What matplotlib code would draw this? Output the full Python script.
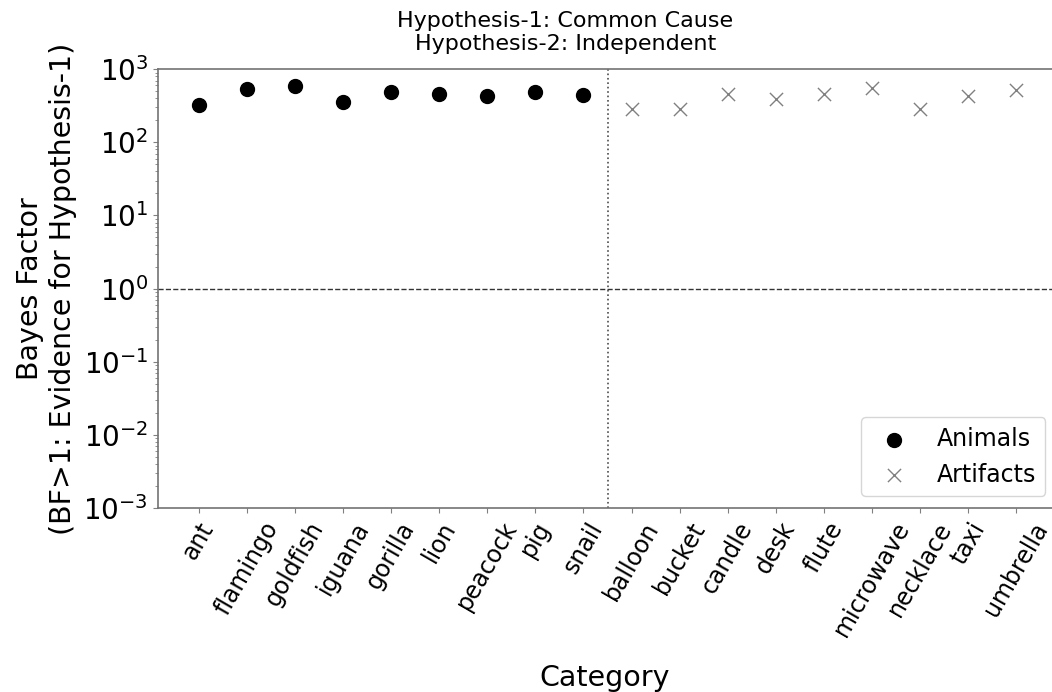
import numpy as np
import matplotlib.pyplot as plt

animals = ['ant', 'flamingo', 'goldfish', 'iguana', 'gorilla', 'lion', 'peacock', 'pig', 'snail']
bf_animals = [325, 535, 595, 355, 490, 455, 425, 490, 450]

artifacts = ['balloon', 'bucket', 'candle', 'desk', 'flute', 'microwave', 'necklace', 'taxi', 'umbrella']
bf_artifacts = [290, 282, 465, 390, 465, 545, 290, 428, 517]

categories = animals + artifacts
x_an = np.arange(len(animals))
x_ar = np.arange(len(animals), len(categories))

fs_title = 16
fs_label = 20.5
fs_ticks = 17

fig = plt.figure(figsize=(10.52, 6.92), dpi=100)
ax = fig.add_axes([0.150, 0.266, 0.855, 0.634])

ax.scatter(x_an, bf_animals, s=100, c='black', marker='o', label='Animals', zorder=3)
ax.scatter(x_ar, bf_artifacts, s=90, c='gray', marker='x', linewidths=1.0, label='Artifacts', zorder=3)

ax.axhline(1, color='0.2', linestyle='--', linewidth=1.0)
ax.axvline(len(animals) - 0.5, color='0.3', linestyle=':', linewidth=1.2)

ax.set_yscale('log')
ax.set_ylim(1e-3, 1e3)
ax.set_xlim(-0.85, len(categories) - 1 + 0.85)
ax.set_xticks(np.arange(len(categories)))
ax.set_xticklabels(categories, rotation=60, fontsize=fs_ticks)
ax.tick_params(axis='y', which='major', labelsize=20)
ax.tick_params(axis='both', which='both', color='0.5')

for sp in ax.spines.values():
    sp.set_color('0.45')
    sp.set_linewidth(1.2)

ax.set_title('Hypothesis-1: Common Cause\nHypothesis-2: Independent', fontsize=fs_title,
             x=0.453, pad=14)
ax.set_xlabel('Category', fontsize=fs_label)
ax.xaxis.set_label_coords(0.497, -0.355)
ax.set_ylabel('Bayes Factor\n(BF>1: Evidence for Hypothesis-1)', fontsize=fs_label)
ax.yaxis.set_label_coords(-0.09, 0.5)
ax.legend(loc='lower right', fontsize=fs_ticks)

fig.savefig('out.png', dpi=100)
